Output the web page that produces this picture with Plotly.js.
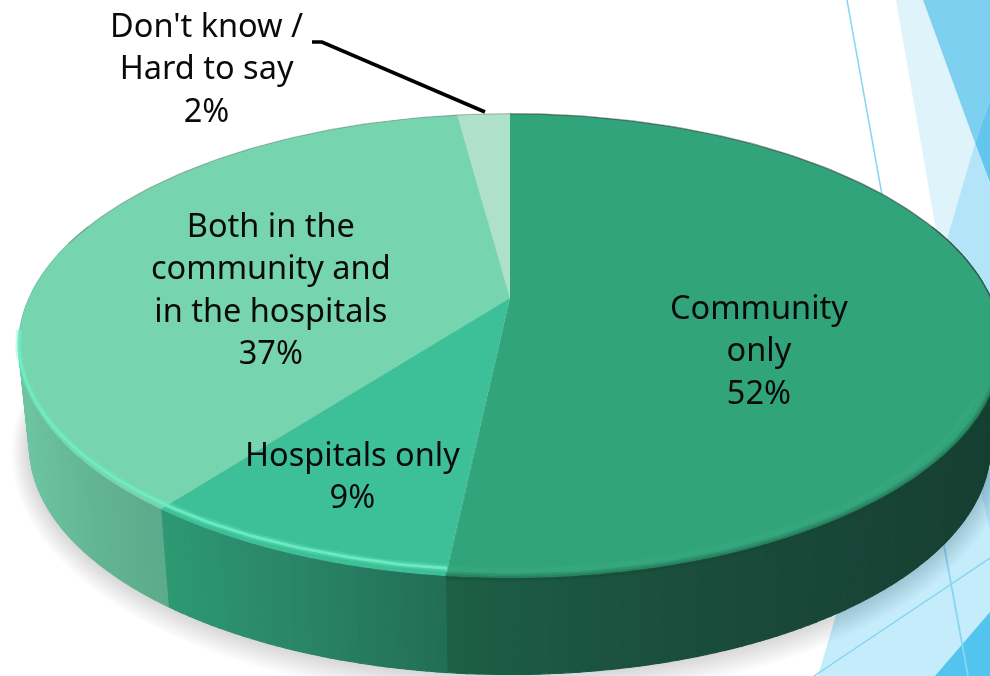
<!DOCTYPE html>
<html><head><meta charset="utf-8">
<script src="https://cdn.plot.ly/plotly-3.0.1.min.js"></script>
<style>
html,body{margin:0;padding:0;background:#fff;overflow:hidden;width:990px;height:676px}
#stage{position:relative;width:990px;height:676px;overflow:hidden}
#back,#front{position:absolute;left:0;top:0;width:990px;height:676px}
#disc{position:absolute;left:0;top:0;width:1000px;height:1000px;transform-origin:0 0}
</style></head><body>
<div id="stage"><div id="back"></div><div id="disc"></div><div id="front"></div></div>
<script>
// ---- chart data ----
const categories = ["Community only", "Hospitals only", "Both in the community and in the hospitals", "Don't know / Hard to say"];
const values = [51.7, 8.7, 37.5, 2.1];   // slice sizes; the printed labels are rounded
const topColors = ["#32a47b", "#3dc098", "#76d4af", "#aee0ca"];
const labelTexts = ["Community<br>only<br>52%", "Hospitals only<br>9%", "Both in the<br>community and<br>in the hospitals<br>37%", "Don't know /<br>Hard to say<br>2%"];
const labelX = [759, 352, 271, 206];
const labelY = [349, 474, 288, 67];
// side wall colour stops for each slice: [x pixel, rgb]
const sideStops = [
  [[447,[29,95,71]],[700,[26,76,60]],[990,[22,63,50]]],
  [[160,[45,154,116]],[300,[42,133,103]],[445,[33,111,84]]],
  [[20,[112,198,164]],[100,[98,181,146]],[167,[92,171,140]]],
  [[400,[150,200,180]],[500,[150,200,180]]]
];
// ---- disc geometry (perspective view of the pie) ----
const cx = 510, cy = 298, tilt = 0.206, halfX = 480.8, halfY = 222.3, depth = 100, wallScale = 0.978;
function project(deg, r) {
  const t = deg * Math.PI / 180, u = r * Math.sin(t), v = -r * Math.cos(t), w = 1 - tilt * v;
  return [cx + halfX * u / w, cy + halfY * v / w];
}
function wall(deg) {
  const p = project(deg, 1);
  return [cx + wallScale * (p[0] - cx), 346 + depth + 0.985 * (p[1] - 346)];
}
function range(a, b, step) {
  const out = [], n = Math.max(1, Math.ceil(Math.abs(b - a) / step));
  for (let i = 0; i <= n; i++) out.push(a + (b - a) * i / n);
  return out;
}
function stopColor(stops, x) {
  if (x <= stops[0][0]) return stops[0][1];
  for (let i = 1; i < stops.length; i++) {
    if (x <= stops[i][0]) {
      const f = (x - stops[i-1][0]) / (stops[i][0] - stops[i-1][0]);
      return stops[i][1].map((c, j) => Math.round(stops[i-1][1][j] + f * (c - stops[i-1][1][j])));
    }
  }
  return stops[stops.length - 1][1];
}
const total = values.reduce((a, b) => a + b, 0);
let cum = 0;
const spans = values.map(v => { const s = [cum * 360 / total, (cum + v) * 360 / total]; cum += v; return s; });

const pageAxes = {
  xaxis: {range: [0, 990], visible: false, fixedrange: true},
  yaxis: {range: [676, 0], visible: false, fixedrange: true},
  margin: {l: 0, r: 0, t: 0, b: 0}, width: 990, height: 676, showlegend: false,
  paper_bgcolor: "rgba(0,0,0,0)", plot_bgcolor: "rgba(0,0,0,0)"
};
const cfg = {staticPlot: true, displayModeBar: false};

// ---- back layer: slide decoration, shadow, side wall ----
const backTraces = [];
range(20, 1, 1).forEach(grow => {
  const xs = [], ys = [];
  range(0, 360, 3).forEach(d => { const q = wall(d);
    xs.push((q[0] - cx) * (1 + grow * 0.0019) + cx);
    ys.push((q[1] - 446) * (1 + grow * 0.0042) + 446 + grow * 0.4); });
  backTraces.push({type: "scatter", mode: "none", x: xs, y: ys, fill: "toself", fillcolor: "rgba(40,40,40,0.008)", hoverinfo: "skip"});
});
spans.forEach((span, i) => {
  const a = Math.max(span[0], 70), b = Math.min(span[1], 290);
  if (b <= a) return;
  const cuts = range(a, b, 1);
  for (let j = 0; j < cuts.length - 1; j++) {
    const p0 = project(cuts[j], 1), p1 = project(cuts[j+1], 1), q0 = wall(cuts[j]), q1 = wall(cuts[j+1]);
    const col = "rgb(" + stopColor(sideStops[i], (q0[0] + q1[0]) / 2).join(",") + ")";
    backTraces.push({type: "scatter", mode: "lines", x: [p0[0], p1[0], q1[0], q0[0], p0[0]], y: [p0[1], p1[1], q1[1], q0[1], p0[1]],
      fill: "toself", fillcolor: col, line: {color: col, width: 1.2}, hoverinfo: "skip"});
  }
});
const poly = (pts, fill) => ({type: "path", layer: "below", line: {width: 0}, fillcolor: fill,
  path: "M" + pts.map(p => p.join(",")).join("L") + "Z"});
const seg = (a, b, w) => ({type: "line", layer: "below", x0: a[0], y0: a[1], x1: b[0], y1: b[1], line: {color: "#86d6f3", width: w}});
Plotly.newPlot("back", backTraces, Object.assign({}, pageAxes, {shapes: [
  poly([[896,0],[923,0],[975,143],[947,239],[936,230]], "#dff3fb"),
  poly([[923,0],[990,0],[990,100],[975,143]], "#7dd0f0"),
  poly([[975,143],[990,100],[990,183]], "#62c6ee"),
  poly([[975,143],[990,183],[990,340],[947,239]], "#b3e4f8"),
  poly([[818,676],[990,676],[990,400],[870,500]], "#c4ecfa"),
  poly([[980,487],[990,470],[990,530]], "#aee1f7"),
  poly([[935,676],[990,612],[990,676]], "#52c4ee"),
  seg([847,0],[882,195],1.5), seg([814,676],[990,558],1.5), seg([943,540],[968,676],1.8)
]}), cfg);

// ---- the pie itself, seen through a perspective transform ----
const discEl = document.getElementById("disc");
Plotly.newPlot(discEl, [{type: "pie", values: values, labels: categories, sort: false, direction: "clockwise", rotation: 0,
  marker: {colors: topColors, line: {width: 0}}, textinfo: "none", hoverinfo: "skip", domain: {x: [0, 1], y: [0, 1]}}],
  {width: 1000, height: 1000, margin: {l: 0, r: 0, t: 0, b: 0}, showlegend: false, paper_bgcolor: "rgba(0,0,0,0)"}, cfg);
const S = 500;
discEl.style.transform = "matrix3d(" + [
  halfX / S, 0, 0, 0,
  -cx * tilt / S, (halfY - cy * tilt) / S, 0, -tilt / S,
  0, 0, 1, 0,
  -halfX + cx * (1 + tilt), -halfY + cy * (1 + tilt), 0, 1 + tilt].join(",") + ")";

// ---- front layer: bevel highlight, outline, leader line, labels ----
// radius of a bevel line: touches the edge at the far left, sinks inward toward the viewer
const bevelR = (d, inset) => 1 - inset * Math.min(1, Math.max(0, (258 - d) / 60));
const curve = (a, b, rf, color, width) => {
  const pts = range(a, b, 1).map(d => project(d, rf(d)));
  return {type: "scatter", mode: "lines", x: pts.map(p => p[0]), y: pts.map(p => p[1]), line: {color: color, width: width}, hoverinfo: "skip"};
};
const at = r => () => r;
const frontTraces = [
  curve(spans[1][0], 100, at(1), "rgba(20,70,52,0.18)", 8),
  curve(spans[1][0], 100, at(1), "rgba(20,70,52,0.22)", 4),
  curve(spans[1][0], 115, at(0.978), "rgba(110,200,165,0.07)", 5),
  curve(100, 0, at(1), "rgba(60,80,70,0.6)", 1.5),
  curve(0, -75, at(1), "rgba(110,140,125,0.55)", 1.2),
  curve(spans[0][1], 262, d => bevelR(d, 0.022), "rgba(108,233,192,0.30)", 7),
  curve(spans[0][1], 262, d => bevelR(d, 0.022), "rgba(112,238,196,0.85)", 3)
];
Plotly.newPlot("front", frontTraces, Object.assign({}, pageAxes, {
  shapes: [{type: "path", path: "M312,42L322,42L485,112", line: {color: "#000", width: 3.6}}],
  annotations: labelTexts.map((t, i) => ({x: labelX[i], y: labelY[i], xref: "x", yref: "y", text: t, showarrow: false,
    xanchor: "center", yanchor: "middle", align: "center", font: {family: "Noto Sans, sans-serif", size: 32.5, color: "#0a0a0a"}}))
}), cfg);
</script></body></html>
